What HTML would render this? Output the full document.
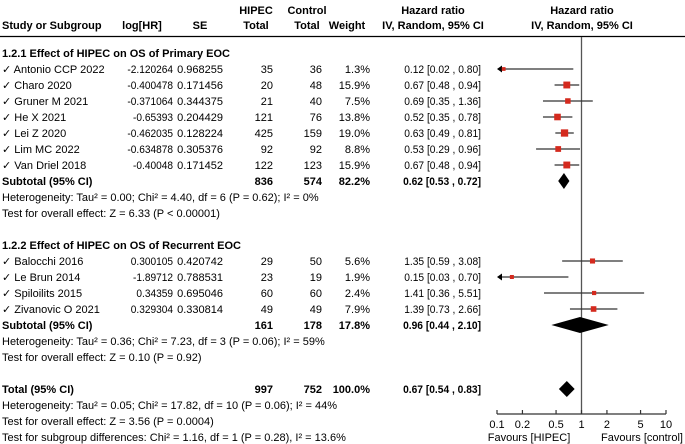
<!DOCTYPE html>
<html><head><meta charset="utf-8"><style>
html,body{margin:0;padding:0;background:#fff}
svg{display:block;font-family:"Liberation Sans",Arial,sans-serif;font-size:11px}
</style></head><body>
<svg id="fp" width="685" height="444" viewBox="0 0 685 444" xmlns="http://www.w3.org/2000/svg">
<g id="txt"></g>
<g id="plot"></g>
</svg>
<script>
// data
const studyNames=["Antonio CCP 2022","Charo 2020","Gruner M 2021","He X 2021","Lei Z 2020","Lim MC 2022","Van Driel 2018","Balocchi 2016","Le Brun 2014","Spiloilits 2015","Zivanovic O 2021"];
const logHR=["-2.120264","-0.400478","-0.371064","-0.65393","-0.462035","-0.634878","-0.40048","0.300105","-1.89712","0.34359","0.329304"];
const seVals=["0.968255","0.171456","0.344375","0.204429","0.128224","0.305376","0.171452","0.420742","0.788531","0.695046","0.330814"];
const hipecN=[35,20,21,121,425,92,122,29,23,60,49];
const controlN=[36,48,40,76,159,92,123,50,19,60,49];
const weights=[1.3,15.9,7.5,13.8,19.0,8.8,15.9,5.6,1.9,2.4,7.9];
const hr=[0.12,0.67,0.69,0.52,0.63,0.53,0.67,1.35,0.15,1.41,1.39];
const lo=[0.02,0.48,0.35,0.35,0.49,0.29,0.48,0.59,0.03,0.36,0.73];
const hi=[0.80,0.94,1.36,0.78,0.81,0.96,0.94,3.08,0.70,5.51,2.66];
const rowOf=[69,85,101,117,133,149,165,261,277,293,309];
const pooledNames=["Subtotal (95% CI)","Subtotal (95% CI)","Total (95% CI)"];
const pooledHipec=[836,161,997];
const pooledControl=[574,178,752];
const pooledWeight=["82.2%","17.8%","100.0%"];
const pooledHR=[0.62,0.96,0.67];
const pooledLo=[0.53,0.44,0.54];
const pooledHi=[0.72,2.10,0.83];
const pooledRow=[181,325,389];
const tickVals=[0.1,0.2,0.5,1,2,5,10];
const tickLabels=["0.1","0.2","0.5","1","2","5","10"];

const NS="http://www.w3.org/2000/svg";
const T=document.getElementById('txt'),P=document.getElementById('plot');
const X0=497,X1=666;
function xs(v){return X0+(Math.log10(v)+1)/2*(X1-X0);}
function el(tag,at,par){const e=document.createElementNS(NS,tag);for(const k in at)e.setAttribute(k,at[k]);par.appendChild(e);return e;}
function tx(s,x,y,anchor,bold,name,squeeze){const e=el('text',{x:x,y:y+4,'text-anchor':anchor||'start',fill:'#000'},T);if(bold)e.setAttribute('font-weight','bold');e.textContent=s;


if(squeeze){const w=e.getComputedTextLength();e.setAttribute('textLength',w*squeeze);e.setAttribute('lengthAdjust','spacingAndGlyphs');}
return e;}
const f2=v=>v.toFixed(2);
// headers
tx("Study or Subgroup",2,25,'start',1,'header-study');
tx("log[HR]",142,25,'middle',1,'header-loghr');
tx("SE",200,25,'middle',1,'header-se');
tx("HIPEC",256,10,'middle',1,'header-hipec');
tx("Total",256,25,'middle',1,'header-hipec-total');
tx("Control",307,10,'middle',1,'header-control');
tx("Total",307,25,'middle',1,'header-control-total');
tx("Weight",347,25,'middle',1,'header-weight');
tx("Hazard ratio",433,10,'middle',1,'header-hr');
tx("IV, Random, 95% CI",433,25,'middle',1,'header-hr-method');
tx("Hazard ratio",582,10,'middle',1,'header-plot');
tx("IV, Random, 95% CI",582,25,'middle',1,'header-plot-method');
const hl=el('line',{x1:0,y1:36.5,x2:685,y2:36.5,stroke:'#000','stroke-width':1.2},P);


tx("1.2.1 Effect of HIPEC on OS of Primary EOC",2,53,'start',1,'subgroup-1-title');
tx("1.2.2 Effect of HIPEC on OS of Recurrent EOC",2,245,'start',1,'subgroup-2-title');
tx("Heterogeneity: Tau² = 0.00; Chi² = 4.40, df = 6 (P = 0.62); I² = 0%",2,197,'start',0,'heterogeneity-1');
tx("Test for overall effect: Z = 6.33 (P < 0.00001)",2,213,'start',0,'overall-effect-1');
tx("Heterogeneity: Tau² = 0.36; Chi² = 7.23, df = 3 (P = 0.06); I² = 59%",2,341,'start',0,'heterogeneity-2');
tx("Test for overall effect: Z = 0.10 (P = 0.92)",2,357,'start',0,'overall-effect-2');
tx("Heterogeneity: Tau² = 0.05; Chi² = 17.82, df = 10 (P = 0.06); I² = 44%",2,405,'start',0,'heterogeneity-total');
tx("Test for overall effect: Z = 3.56 (P = 0.0004)",2,421,'start',0,'overall-effect-total');
tx("Test for subgroup differences: Chi² = 1.16, df = 1 (P = 0.28), I² = 13.6%",2,437,'start',0,'subgroup-differences');

// zero line
const zl=el('line',{x1:xs(1),y1:37,x2:xs(1),y2:414,stroke:'#555','stroke-width':1.3},P);



studyNames.forEach((n,i)=>{const y=rowOf[i];
tx("✓ "+n,2,y,'start',0,'study-name');
tx(logHR[i],173,y,'end',0,'study-loghr',0.92);
tx(seVals[i],223,y,'end',0,'study-se');
tx(String(hipecN[i]),273,y,'end',0,'study-hipec-total');
tx(String(controlN[i]),322,y,'end',0,'study-control-total');
tx(weights[i].toFixed(1)+"%",370,y,'end',0,'study-weight');
tx(f2(hr[i])+" ["+f2(lo[i])+" , "+f2(hi[i])+"]",481,y,'end',0,'study-hr-ci',0.93);
const l=Math.max(lo[i],0.1),h=Math.min(hi[i],10);
let xl=xs(l);if(lo[i]<0.1)xl+=3;
const ln=el('line',{x1:xl,y1:y,x2:xs(h),y2:y,stroke:'#333','stroke-width':1.2},P);


if(lo[i]<0.1){const a=el('polygon',{points:(X0)+','+y+' '+(X0+5)+','+(y-3.5)+' '+(X0+5)+','+(y+3.5),fill:'#000'},P);

}
const s=2.5+Math.sqrt(weights[i])*1.1;
const r=el('rect',{x:xs(hr[i])-s/2,y:y-s/2,width:s,height:s,fill:'#d42a1e'},P);


});
pooledNames.forEach((n,i)=>{const y=pooledRow[i];
tx(n,2,y,'start',1,'pooled-name');
tx(String(pooledHipec[i]),273,y,'end',1,'pooled-hipec-total');
tx(String(pooledControl[i]),322,y,'end',1,'pooled-control-total');
tx(pooledWeight[i],370,y,'end',1,'pooled-weight');
tx(f2(pooledHR[i])+" ["+f2(pooledLo[i])+" , "+f2(pooledHi[i])+"]",481,y,'end',1,'pooled-hr-ci',0.93);
const hh=8;
const d=el('polygon',{points:xs(pooledLo[i])+','+y+' '+xs(pooledHR[i])+','+(y-hh)+' '+xs(pooledHi[i])+','+y+' '+xs(pooledHR[i])+','+(y+hh),fill:'#000'},P);


});
// axis
const ax=el('line',{x1:X0,y1:414,x2:X1,y2:414,stroke:'#333','stroke-width':1.2},P);


tickVals.forEach((v,i)=>{
const t=el('line',{x1:xs(v),y1:410,x2:xs(v),y2:414,stroke:'#333','stroke-width':1.2},P);


tx(tickLabels[i],xs(v),424,'middle',0,'x-tick-label');
});
tx("Favours [HIPEC]",529,437,'middle',0,'favours-hipec');
tx("Favours [control]",642,437,'middle',0,'favours-control');
</script>
</body></html>
